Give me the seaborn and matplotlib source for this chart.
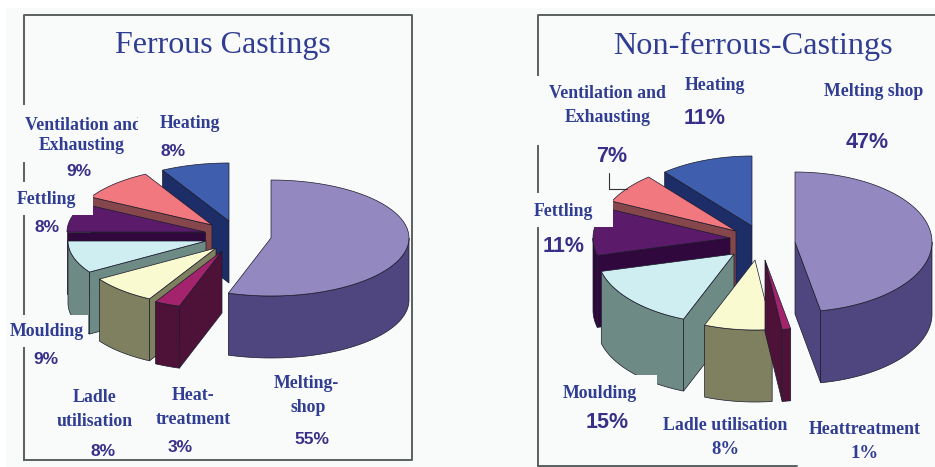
"""
Energy use by department in foundries: two exploded 3D pies side by side.
The pies are built by hand from the percentages, matplotlib has no 3D pie.
"""
import numpy as np
import matplotlib
matplotlib.use('Agg')
import matplotlib.pyplot as plt
from matplotlib.patches import Rectangle
from matplotlib import font_manager
import seaborn as sns

# order: clockwise from 12 o'clock
FERROUS_VALUES = [55, 3, 8, 9, 8, 9, 8]
NONFERROUS_VALUES = [47, 1, 8, 15, 11, 7, 11]

TOP_COLORS = ['#9488c0', '#a3246c', '#fafad0', '#cfeef2', '#5c1a6b', '#f2787f', '#3f5fae']
WALL_COLORS = ['#50467f', '#4e1238', '#7e8060', '#6d8a85', '#30083e', '#85474c', '#1c2d68']

BG = '#f9fbfb'
TEXT_BLUE = '#303d92'
PCT_BLUE = '#3a2f88'

# explosion: where each slice tip sits, in picture pixels
FERROUS_TIPS = [(271, 238), (222, 251), (216, 248), (206, 241), (205, 232), (212, 225), (229, 221)]
NONFERROUS_TIPS = [(795, 242), (765, 260), (755, 260), (734, 254), (730, 238), (736, 231), (752, 226)]

sns.set_theme(style='white')
installed = {f.name for f in font_manager.fontManager.ttflist}
NARROW = 'Liberation Sans Narrow' if 'Liberation Sans Narrow' in installed else 'Liberation Sans'


def draw_pie(ax, values, tips, a, b, depth):
    tops = sns.color_palette(TOP_COLORS)
    walls = sns.color_palette(WALL_COLORS)
    edges = np.cumsum([0] + list(values)) * 3.6

    def rim(cx, cy, theta):
        t = np.radians(theta)
        return cx + a * np.sin(t), cy - b * np.cos(t)

    # melting shop comes last, it sits in front of everything else
    for i in list(range(1, len(values)))[::-1] + [0]:
        cx, cy = tips[i]
        t0, t1 = edges[i], edges[i + 1]
        style = dict(color=walls[i], ec='#1a1a2a', lw=0.5)
        # side walls between tip and rim, only the ones facing us
        for theta, visible in [(t0, np.sin(np.radians(t0)) < -1e-6), (t1, np.sin(np.radians(t1)) > 1e-6)]:
            if visible:
                x, y = rim(cx, cy, theta)
                ax.fill([cx, x, x, cx], [cy, y, y + depth, cy + depth], **style)
        # outer wall
        lo, hi = max(t0, 90), min(t1, 270)
        if hi > lo:
            x, y = rim(cx, cy, np.linspace(lo, hi, 50))
            ax.fill(np.r_[x, x[::-1]], np.r_[y, (y + depth)[::-1]], **style)
        x, y = rim(cx, cy, np.linspace(t0, t1, 60))
        ax.fill(np.r_[cx, x], np.r_[cy, y], color=tops[i], ec='#1a1a2a', lw=0.5)


def label(ax, x, y, s, size=12.8):
    ax.text(x, y, s, ha='center', va='center', color=TEXT_BLUE, fontsize=size,
            fontweight='bold', family='Liberation Serif', zorder=6)


def pct(ax, x, y, v, size=12.5, serif=False):
    if serif:
        label(ax, x, y, f'{v}%', 13.5)
    else:
        ax.text(x, y, f'{v}%', ha='center', va='center', color=PCT_BLUE, fontsize=size,
                fontweight='bold', family=NARROW, zorder=6)


def mask(ax, x, y, w, h, z=4):
    ax.add_patch(Rectangle((x, y), w, h, fc=BG, ec='none', zorder=z))


fig = plt.figure(figsize=(9.35, 4.67), dpi=100)
ax = fig.add_axes([0, 0, 1, 1])
ax.set_xlim(0, 935)
ax.set_ylim(467, 0)
ax.axis('off')

ax.add_patch(Rectangle((6, 8), 929, 459, fc=BG, ec='none', zorder=0))

# frames
frame = dict(color='#5a5f5f', lw=1.4, zorder=1)
ax.plot([24, 24, 412, 412, 24], [460, 15, 15, 460, 460], **frame)
ax.plot([538, 538, 935], [466, 15, 15], **frame)
ax.plot([538, 797], [465.5, 465.5], **frame)

draw_pie(ax, FERROUS_VALUES, FERROUS_TIPS, 138, 58, 62)
draw_pie(ax, NONFERROUS_VALUES, NONFERROUS_TIPS, 137, 70, 72)

# the label boxes of the original cut into frame and slices
mask(ax, 15, 105, 123, 57)
mask(ax, 15, 182, 78, 33)
mask(ax, 8, 315, 80, 32)
mask(ax, 535, 76, 133, 69)
mask(ax, 530, 193, 83, 34)
mask(ax, 555, 375, 102, 32)

ax.text(223, 45, 'Ferrous Castings', ha='center', va='center', color=TEXT_BLUE,
        fontsize=23, family='Liberation Serif', zorder=6)
ax.text(753, 46, 'Non-ferrous-Castings', ha='center', va='center', color=TEXT_BLUE,
        fontsize=23.2, family='Liberation Serif', zorder=6)

# left pie labels
melt, heat, ladle, mould, fett, vent, heating = FERROUS_VALUES
label(ax, 190, 124, 'Heating')
pct(ax, 173, 151, heating)
label(ax, 83, 125, 'Ventilation and')
label(ax, 82, 146, 'Exhausting')
mask(ax, 138, 115, 12, 20, z=7)
pct(ax, 79, 172, vent)
label(ax, 46, 199, 'Fettling')
pct(ax, 47, 228, fett)
label(ax, 47, 332, 'Moulding')
pct(ax, 46, 360, mould)
label(ax, 95, 398, 'Ladle')
label(ax, 95, 421, 'utilisation')
pct(ax, 103, 452, ladle)
label(ax, 193, 396, 'Heat-')
label(ax, 193, 419, 'treatment')
mask(ax, 146, 410, 10, 18, z=7)
pct(ax, 180, 447, heat)
label(ax, 306, 384, 'Melting-')
label(ax, 308, 407, 'shop')
pct(ax, 312, 439, melt)

# right pie labels
melt, heat, ladle, mould, fett, vent, heating = NONFERROUS_VALUES
label(ax, 715, 85, 'Heating')
pct(ax, 705, 119, heating, 15.5)
label(ax, 607, 94, 'Ventilation and')
label(ax, 608, 117, 'Exhausting')
pct(ax, 612, 157, vent, 15.5)
label(ax, 874, 92, 'Melting shop')
pct(ax, 867, 142, melt, 15.5)
label(ax, 563, 212, 'Fettling')
pct(ax, 564, 246, fett, 15.5)
label(ax, 600, 393, 'Moulding')
pct(ax, 607, 423, mould, 15.5)
label(ax, 725, 425, 'Ladle utilisation')
pct(ax, 725, 449, ladle, serif=True)
label(ax, 865, 429, 'Heattreatment')
pct(ax, 865, 453, heat, serif=True)

# leader line for the 7%
ax.plot([609, 609, 627], [173, 189, 189], color='#333333', lw=0.8, zorder=3)

plt.savefig('out.png', dpi=100)
